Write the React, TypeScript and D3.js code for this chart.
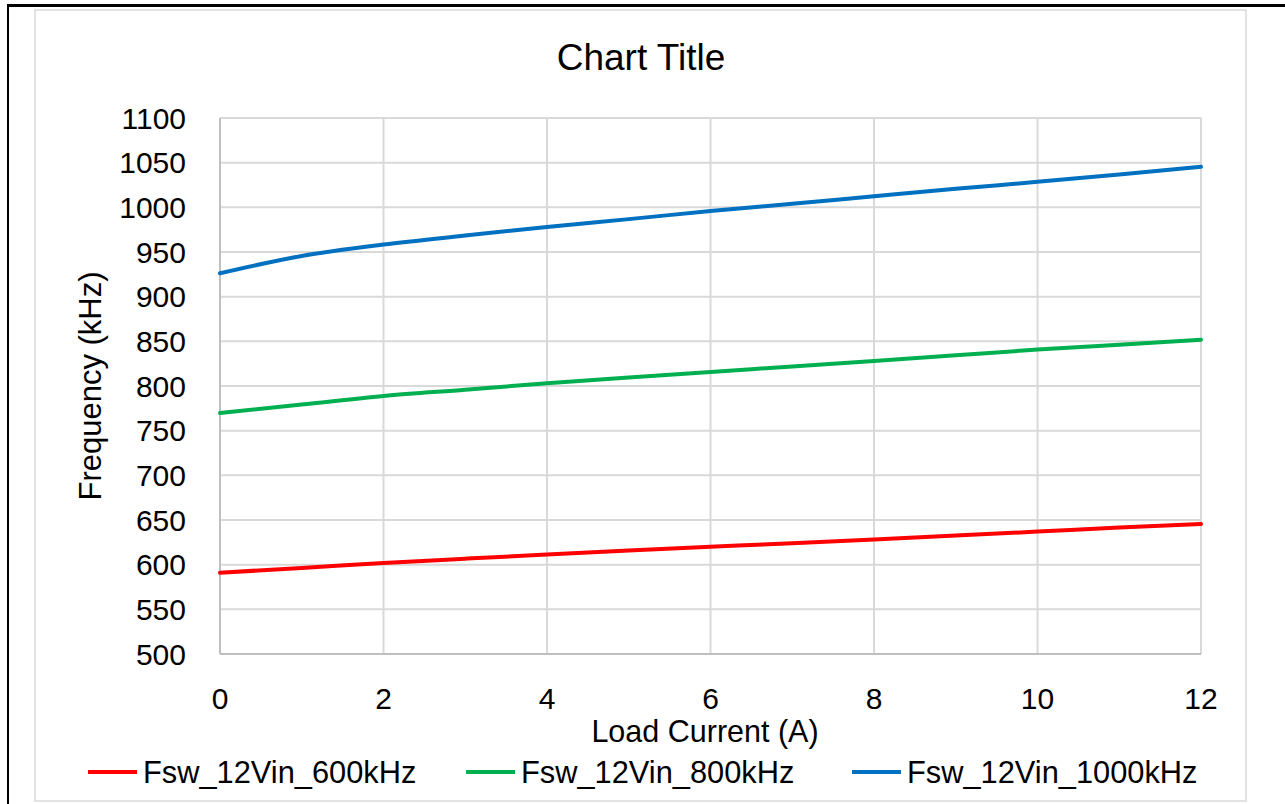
import React from "react";
import * as d3 from "d3";

const loadCurrent = [0, 1, 2, 3, 4, 5, 6, 7, 8, 9, 10, 11, 12];
const fsw600 = [591, 596.3, 601.9, 606.7, 611.4, 615.9, 620, 624.1, 628.3, 632.6, 637, 641.5, 645.6];
const fsw800 = [769.7, 779.2, 788.9, 795.9, 803, 809.6, 815.8, 821.9, 828.1, 834.4, 840.8, 846.3, 851.9];
const fsw1000 = [926.2, 945.5, 958.3, 968.4, 978.1, 986.8, 995.9, 1004, 1012.4, 1020.7, 1028.6, 1036.8, 1045.3];
const seriesNames = ["Fsw_12Vin_600kHz", "Fsw_12Vin_800kHz", "Fsw_12Vin_1000kHz"];
const seriesColors = ["#ff0000", "#00b050", "#0070c0"];
const xTicks = [0, 2, 4, 6, 8, 10, 12];
const yTicks = [500, 550, 600, 650, 700, 750, 800, 850, 900, 950, 1000, 1050, 1100];

const FONT = "'Liberation Sans', Arial, sans-serif";

export default function App() {
  const W = 1285, H = 804;
  const left = 220, right = 1201, top = 118, bottom = 654;
  const x = d3.scaleLinear().domain([0, 12]).range([left, right]);
  const y = d3.scaleLinear().domain([500, 1100]).range([bottom, top]);
  const allSeries = [fsw600, fsw800, fsw1000];
  const line = d3
    .line<number>()
    .x((_, i) => x(loadCurrent[i]))
    .y((d) => y(d))
    .curve(d3.curveMonotoneX);
  const legendX = [88, 466, 852];

  return (
    <svg
      width={W}
      height={H}
      style={{ position: "absolute", left: 0, top: 0, background: "#fff" }}
      fontFamily={FONT}
    >
      <rect x={0} y={0} width={W} height={H} fill="#fff" />
      {/* outer black cell borders */}
      <line x1={7} x2={W} y1={5.5} y2={5.5} stroke="#000" strokeWidth={3} />
      <line x1={8} x2={8} y1={4} y2={H} stroke="#000" strokeWidth={2} />
      {/* chart area border */}
      <rect x={35} y={10} width={1211} height={791} fill="#fff" stroke="#d9d9d9" strokeWidth={1.5} />
      {/* title */}
      <text x={641} y={57} textAnchor="middle" dominantBaseline="central" fontSize={37} fill="#000">
        Chart Title
      </text>
      {/* gridlines */}
      {yTicks.map((t) => (
        <line key={"gy" + t} x1={left} x2={right} y1={y(t)} y2={y(t)} stroke="#d9d9d9" strokeWidth={2} />
      ))}
      {xTicks.map((t) => (
        <line key={"gx" + t} x1={x(t)} x2={x(t)} y1={top} y2={bottom} stroke="#d9d9d9" strokeWidth={2} />
      ))}
      {/* axes */}
      <line x1={left} x2={left} y1={top} y2={bottom} stroke="#bfbfbf" strokeWidth={2} />
      <line x1={left} x2={right} y1={bottom} y2={bottom} stroke="#bfbfbf" strokeWidth={2} />
      {/* tick labels */}
      {yTicks.map((t) => (
        <text key={"ty" + t} x={186} y={y(t)} textAnchor="end" dominantBaseline="central" fontSize={30} fill="#000">
          {t}
        </text>
      ))}
      {xTicks.map((t) => (
        <text key={"tx" + t} x={x(t)} y={698} textAnchor="middle" dominantBaseline="central" fontSize={30} fill="#000">
          {t}
        </text>
      ))}
      {/* axis titles */}
      <text
        transform={`translate(90,386) rotate(-90)`}
        textAnchor="middle"
        dominantBaseline="central"
        fontSize={31}
        fill="#000"
      >
        Frequency (kHz)
      </text>
      <text x={705} y={731} textAnchor="middle" dominantBaseline="central" fontSize={30.5} fill="#000">
        Load Current (A)
      </text>
      {/* series */}
      {allSeries.map((s, i) => (
        <path key={"s" + i} d={line(s) || ""} fill="none" stroke={seriesColors[i]} strokeWidth={4} strokeLinecap="round" />
      ))}
      {/* legend */}
      {seriesNames.map((n, i) => (
        <g key={"l" + i}>
          <line x1={legendX[i]} x2={legendX[i] + 49} y1={772} y2={772} stroke={seriesColors[i]} strokeWidth={4} />
          <text x={legendX[i] + 55} y={772} dominantBaseline="central" fontSize={30.8} fill="#000">
            {n}
          </text>
        </g>
      ))}
    </svg>
  );
}
